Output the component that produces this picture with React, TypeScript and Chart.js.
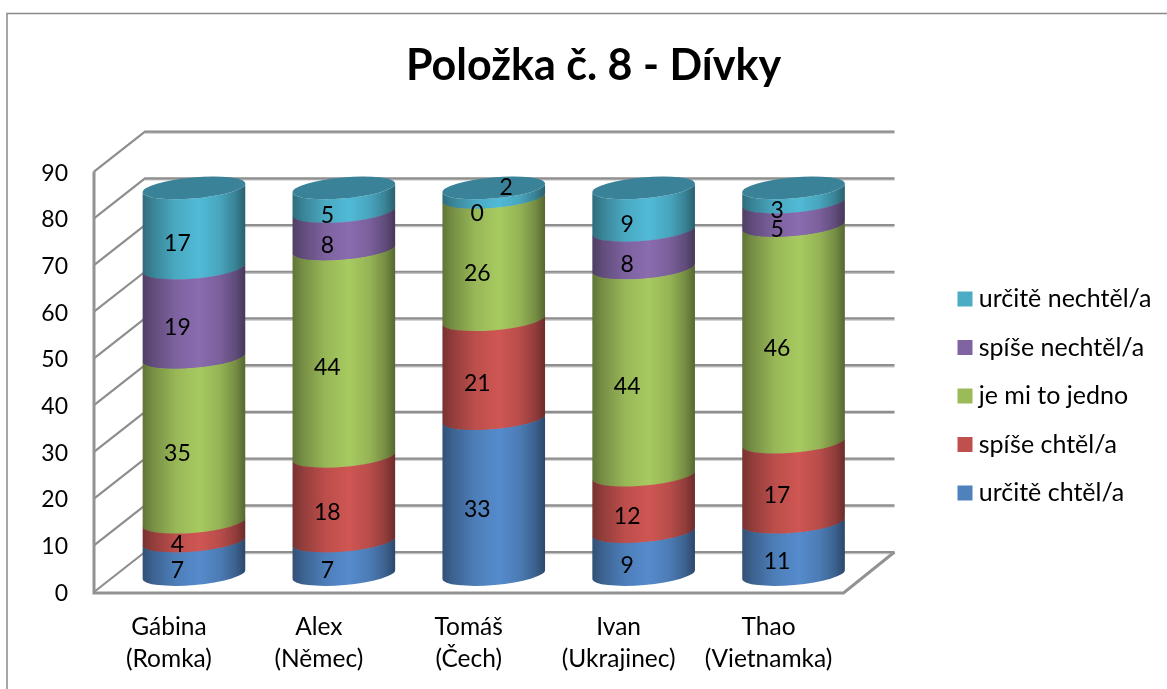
import React, { useEffect, useRef } from "react";
import { Chart, registerables, BarController, BarElement } from "chart.js";

const chartTitle = "Položka č. 8 - Dívky";
const categories = [
  ["Gábina", "(Romka)"],
  ["Alex", "(Němec)"],
  ["Tomáš", "(Čech)"],
  ["Ivan", "(Ukrajinec)"],
  ["Thao", "(Vietnamka)"],
];
const seriesNames = ["určitě chtěl/a", "spíše chtěl/a", "je mi to jedno", "spíše nechtěl/a", "určitě nechtěl/a"];
const urciteChtel = [7, 7, 33, 9, 11];
const spiseChtel = [4, 18, 21, 12, 17];
const jedno = [35, 44, 26, 44, 46];
const spiseNechtel = [19, 8, 0, 8, 5];
const urciteNechtel = [17, 5, 2, 9, 3];
const seriesValues = [urciteChtel, spiseChtel, jedno, spiseNechtel, urciteNechtel];
const seriesColors = ["#4F81BD", "#C0504D", "#9BBB59", "#8064A2", "#4BACC6"];
const capColor = "#3A8298";
const yMax = 90;
const yStep = 10;

const FONT = "Lato, Carlito, Calibri, sans-serif";
const FRONT_SHIFT = { x: 25, y: -18 };
const STRETCH = 1.008;
const WALL = { x: 51, y: -40 };
const RX = 51.5;
const RY = 10.5;
const TILT = (-5 * Math.PI) / 180;

function shade(hex: string, k: number) {
  const n = parseInt(hex.slice(1), 16);
  const c = [(n >> 16) & 255, (n >> 8) & 255, n & 255].map((v) => Math.min(255, Math.round(v * k)));
  return `rgb(${c[0]},${c[1]},${c[2]})`;
}

const SHADES: [number, number][] = [
  [0, 0.62],
  [0.1, 0.76],
  [0.32, 0.98],
  [0.55, 1.08],
  [0.75, 0.96],
  [0.9, 0.76],
  [1, 0.55],
];

// Maps a pixel of the value scale onto the cylinder, which stands inside the 3D box.
function frontY(px: number, zero: number) {
  return zero + FRONT_SHIFT.y - (zero - px) * STRETCH;
}

class CylinderElement extends (BarElement as any) {
  static id = "cylinder";
  draw(ctx: CanvasRenderingContext2D) {
    const self = this as any;
    const { x, y, base } = self.getProps(["x", "y", "base"]);
    if (Math.abs(base - y) < 0.5) return;
    const cx = x + FRONT_SHIFT.x;
    const top = frontY(y, self.zero);
    const bottom = frontY(base, self.zero);
    const color = self.options.backgroundColor;
    const g = ctx.createLinearGradient(cx - RX, 0, cx + RX, 0);
    SHADES.forEach(([p, k]) => g.addColorStop(p, shade(color, k)));
    ctx.save();
    ctx.fillStyle = g;
    ctx.beginPath();
    // Front surface only: lower arc of the base ellipse up to the lower arc of the top ellipse.
    ctx.ellipse(cx, bottom + 0.5, RX, RY, TILT, 0, Math.PI, false);
    ctx.ellipse(cx, top, RX, RY, TILT, Math.PI, 0, true);
    ctx.closePath();
    ctx.fill();
    ctx.restore();
  }
  drawCap(ctx: CanvasRenderingContext2D) {
    const self = this as any;
    const { x, y } = self.getProps(["x", "y"]);
    ctx.save();
    ctx.fillStyle = capColor;
    ctx.beginPath();
    ctx.ellipse(x + FRONT_SHIFT.x, frontY(y, self.zero), RX, RY, TILT, 0, 2 * Math.PI);
    ctx.fill();
    ctx.restore();
  }
}

class CylinderController extends (BarController as any) {
  static id = "cylinder";
  static defaults = { ...(BarController as any).defaults, dataElementType: "cylinder" };
  static overrides = (BarController as any).overrides;
  draw() {
    const self = this as any;
    const zero = self.chart.scales.y.getPixelForValue(0);
    self._cachedMeta.data.forEach((el: any) => {
      el.zero = zero;
    });
    super.draw();
    if (self.index === self.chart.data.datasets.length - 1) {
      self._cachedMeta.data.forEach((el: any) => el.drawCap(self._ctx));
    }
  }
}

Chart.register(...registerables, CylinderController as any, CylinderElement as any);

const framePlugin = {
  id: "frame3d",
  beforeLayout(chart: any) {
    const legend = chart.legend;
    if (legend && !legend.__patched) {
      legend.__patched = true;
      const fit = legend.fit;
      legend.fit = function () {
        fit.call(this);
        this.width = 1167 - 843.5;
      };
    }
  },
  afterLayout(chart: any) {
    const l = chart.legend;
    l.left += 96.75;
    l.right += 96.75;
    const mid = (l.top + l.bottom) / 2;
    l.top += 396 - mid;
    l.bottom += 396 - mid;
  },
  beforeDraw(chart: any) {
    const ctx = chart.ctx;
    ctx.save();
    ctx.strokeStyle = "#8A8A8A";
    ctx.lineWidth = 1.5;
    ctx.beginPath();
    ctx.moveTo(7, 689);
    ctx.lineTo(7, 13.5);
    ctx.lineTo(1167, 13.5);
    ctx.stroke();
    ctx.restore();
  },
  beforeDatasetsDraw(chart: any) {
    const ctx = chart.ctx;
    const { y: ys, x: xs } = chart.scales;
    const l = xs.left;
    const r = xs.right;
    const stroke = (pts: number[][], color: string, w: number) => {
      ctx.strokeStyle = color;
      ctx.lineWidth = w;
      ctx.beginPath();
      pts.forEach((p, i) => (i ? ctx.lineTo(p[0], p[1]) : ctx.moveTo(p[0], p[1])));
      ctx.stroke();
    };
    ctx.save();
    ctx.lineJoin = "miter";
    ys.ticks.forEach((t: any) => {
      const y = ys.getPixelForValue(t.value);
      stroke([[l + WALL.x, y + WALL.y + 1.5], [r + WALL.x, y + WALL.y + 1.5]], "#C4C4C4", 1.5);
      stroke([[l, y], [l + WALL.x, y + WALL.y], [r + WALL.x, y + WALL.y]], "#8E8E8E", 2.2);
    });
    const y0 = ys.getPixelForValue(0);
    const yTop = ys.getPixelForValue(yMax);
    stroke([[l, yTop], [l, y0 + 1], [r, y0 + 1], [r + WALL.x, y0 + WALL.y]], "#929292", 3);
    ctx.restore();
  },
  afterDatasetsDraw(chart: any) {
    const ctx = chart.ctx;
    ctx.save();
    ctx.fillStyle = "#000";
    ctx.font = `23px ${FONT}`;
    ctx.textAlign = "center";
    ctx.textBaseline = "middle";
    chart.data.datasets.forEach((ds: any, di: number) => {
      chart.getDatasetMeta(di).data.forEach((el: any, i: number) => {
        // The 2 of Tomáš sits on the top of the cylinder in the source.
        const moved = di === 4 && i === 2;
        ctx.fillText(
          String(ds.data[i]),
          el.x + 8.5 + (moved ? 29 : 0),
          (el.y + el.base) / 2 - 5 + (moved ? -21 : 0)
        );
      });
    });
    ctx.restore();
  },
};

export default function App() {
  const ref = useRef<HTMLCanvasElement>(null);
  useEffect(() => {
    document.body.style.margin = "0";
    const chart = new Chart(ref.current as HTMLCanvasElement, {
      type: "cylinder" as any,
      data: {
        labels: categories,
        datasets: seriesNames.map((label, i) => ({
          label,
          data: seriesValues[i],
          backgroundColor: seriesColors[i],
          clip: false,
          categoryPercentage: 0.6875,
          barPercentage: 1,
        })),
      } as any,
      plugins: [framePlugin],
      options: {
        responsive: false,
        animation: false,
        events: [],
        layout: { padding: { left: 20, right: 0, top: 0, bottom: 0 } },
        plugins: {
          tooltip: { enabled: false },
          title: {
            display: true,
            text: chartTitle,
            color: "#000",
            font: { family: FONT, size: 43, weight: "bold", lineHeight: 1.2 },
            padding: { top: 40, bottom: 80 },
          },
          legend: {
            position: "right",
            reverse: true,
            labels: {
              color: "#000",
              font: { family: FONT, size: 25, lineHeight: 1.2 },
              usePointStyle: true,
              pointStyle: "rect",
              boxWidth: 2.5,
              boxHeight: 15,
              padding: 23.5,
            },
          },
        },
        scales: {
          x: {
            type: "category",
            stacked: true,
            offset: true,
            grid: { display: false },
            border: { display: false },
            afterFit: (s: any) => {
              s.height = 689 - 592;
            },
            ticks: {
              color: "#000",
              font: { family: FONT, size: 24.5, lineHeight: 1.3 },
              padding: 11,
              autoSkip: false,
              maxRotation: 0,
            },
          },
          y: {
            type: "linear",
            stacked: true,
            min: 0,
            max: yMax,
            grid: { display: false, drawTicks: false },
            border: { display: false },
            afterFit: (s: any) => {
              s.width = 74;
            },
            ticks: {
              color: "#000",
              stepSize: yStep,
              padding: 26,
              labelOffset: 1.5,
              font: { family: FONT, size: 23 },
            },
          },
        },
      } as any,
    });
    return () => chart.destroy();
  }, []);
  return <canvas ref={ref} width={1167} height={689} style={{ display: "block" }} />;
}
